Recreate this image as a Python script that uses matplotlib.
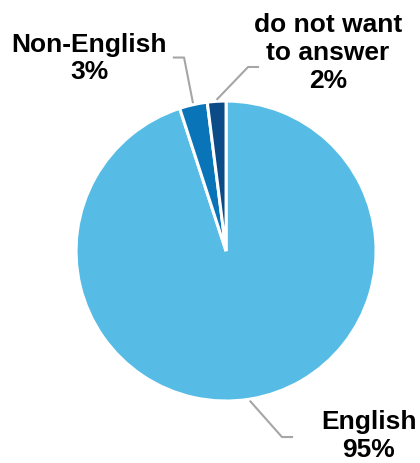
import matplotlib.pyplot as plt
import numpy as np

# Language spoken at home
labels = ["English", "Non-English", "do not want\nto answer"]
shares = [95, 3, 2]
colors = ["#56BCE6", "#0A74B8", "#0B4B87"]

plt.rcParams["font.family"] = ["Liberation Sans", "DejaVu Sans"]

fig = plt.figure(figsize=(4.2, 4.64), dpi=100)
ax = fig.add_axes([0, 0, 1, 1])

wedges, _ = ax.pie(
    shares,
    colors=colors,
    startangle=90,
    counterclock=False,
    radius=1,
    wedgeprops=dict(edgecolor="white", linewidth=2.2),
)

# pie() resets the limits, so fix the view afterwards
ax.set_xlim(-1.507, 1.293)
ax.set_ylim(-1.413, 1.68)
ax.set_aspect("equal")
ax.axis("off")

# leader line elbow / end and label position for each slice
leaders = [
    ((0.373, -1.24), (0.447, -1.24), (0.95, -1.225)),
    ((-0.28, 1.29), (-0.355, 1.29), (-0.913, 1.29)),
    ((0.147, 1.227), (0.22, 1.227), (0.68, 1.325)),
]

for w, lab, val, (elbow, end, txt) in zip(wedges, labels, shares, leaders):
    mid = np.deg2rad((w.theta1 + w.theta2) / 2)
    x0, y0 = np.cos(mid) * 1.01, np.sin(mid) * 1.01
    ax.plot([x0, elbow[0], end[0]], [y0, elbow[1], end[1]],
            color="#A6A6A6", linewidth=1.5, solid_capstyle="butt")
    ax.text(txt[0], txt[1], f"{lab}\n{val}%", ha="center", va="center",
            fontsize=19, fontweight="bold", linespacing=1.2, color="black")

plt.savefig("out.png", dpi=100)
plt.close()
